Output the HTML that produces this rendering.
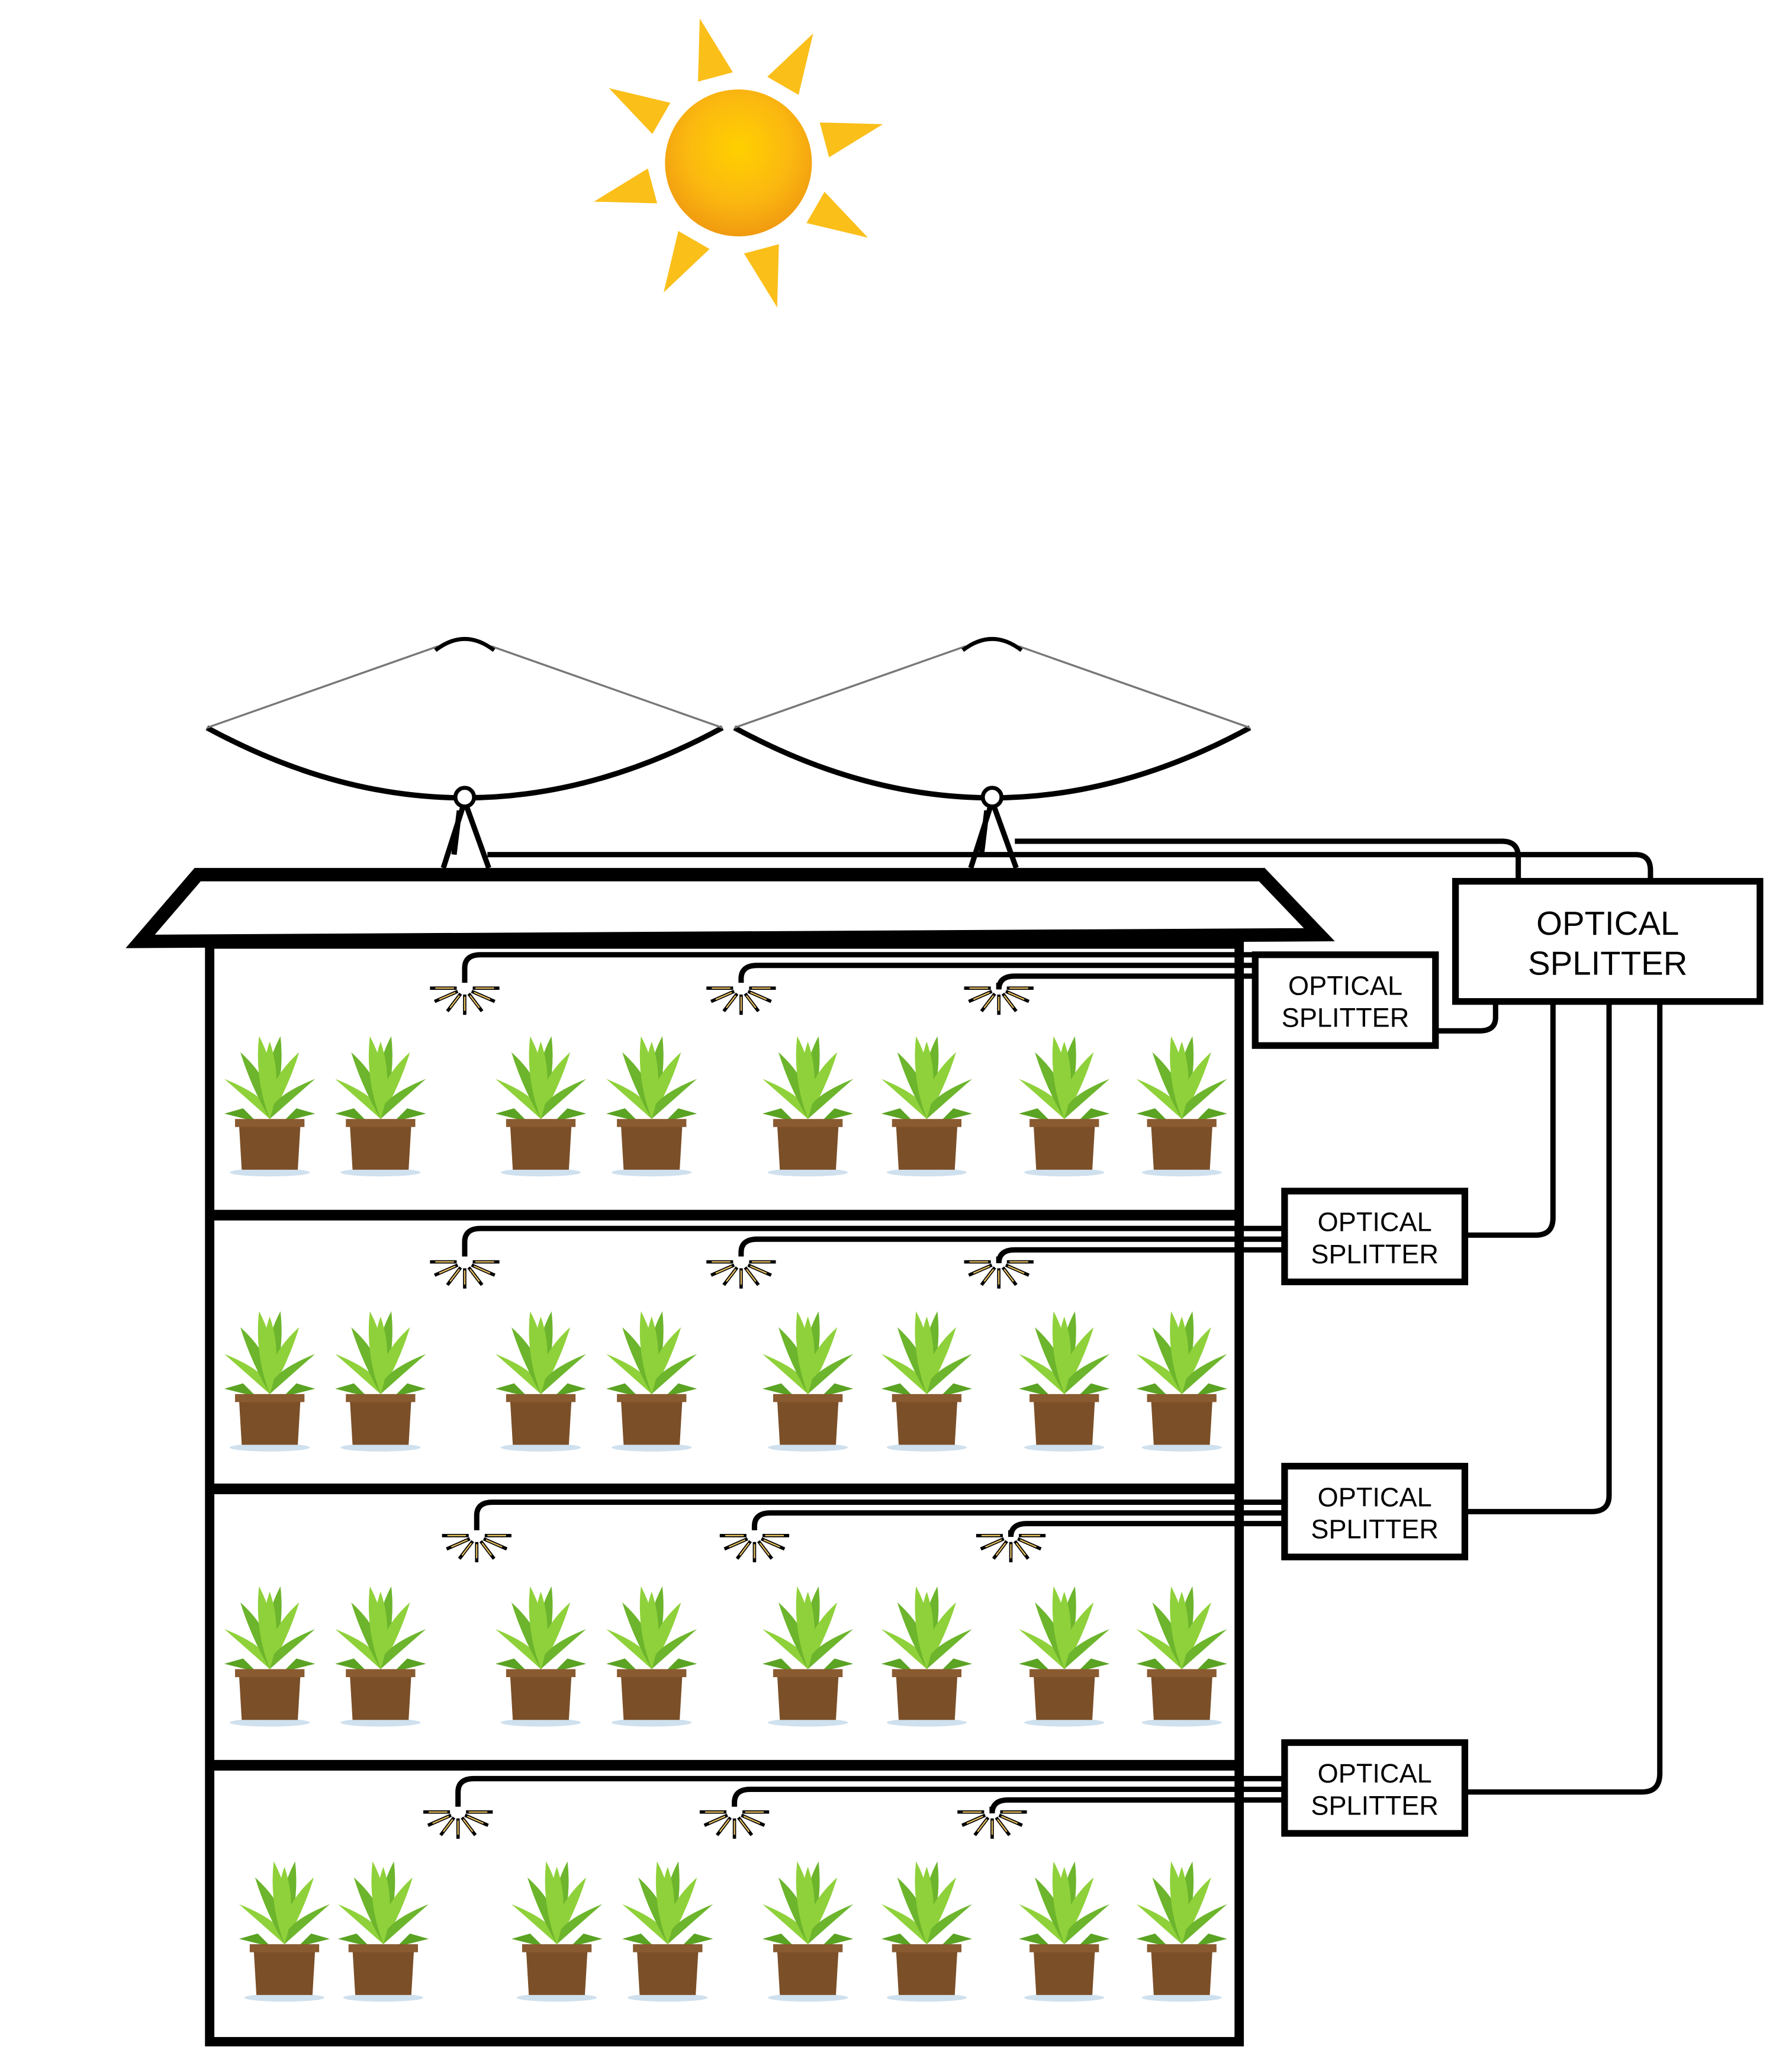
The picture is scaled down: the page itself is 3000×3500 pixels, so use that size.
<!DOCTYPE html>
<html><head><meta charset="utf-8"><style>html,body{margin:0;padding:0;background:#fff}svg{display:block}</style></head>
<body>
<svg id="s" xmlns="http://www.w3.org/2000/svg" width="3000" height="3500" viewBox="0 0 1330 1551.7">
<defs>
<radialGradient id="sg" cx="50%" cy="40%" r="60%"><stop offset="0" stop-color="#ffd000"/><stop offset="0.6" stop-color="#fbb810"/><stop offset="1" stop-color="#f09a10"/></radialGradient>
</defs>
<g id="sun"></g>
<g id="dishes"></g>
<g id="cables" fill="none" stroke="#000" stroke-width="4"></g>
<g id="building"></g>
<g id="plants"></g>
<g id="splitters"></g>
</svg>
<script>
const NS="http://www.w3.org/2000/svg";
function mk(p,t,a){const e=document.createElementNS(NS,t);for(const k in a)e.setAttribute(k,a[k]);p.appendChild(e);return e;}
const sun=document.getElementById('sun');
for(let i=0;i<8;i++){const a=(i*45-105)*Math.PI/180,w=0.2;
 const r1=68,r2=112;
 const p=[[553+r1*Math.cos(a-w),122+r1*Math.sin(a-w)],[553+r2*Math.cos(a),122+r2*Math.sin(a)],[553+r1*Math.cos(a+w),122+r1*Math.sin(a+w)]];
 const ray=mk(sun,'polygon',{points:p.map(q=>q.join(',')).join(' '),fill:'#fbbf1a'});
 
 }
const disc=mk(sun,'circle',{cx:553,cy:122,r:55,fill:'url(#sg)'});



const dishes=document.getElementById('dishes');
[348,743].forEach(cx=>{
 const g=mk(dishes,'g',{});
 
 
 mk(g,'path',{d:`M${cx-193},545 Q${cx},650 ${cx+193},545`,fill:'none',stroke:'#000','stroke-width':4});
 mk(g,'path',{d:`M${cx-193},545 L${cx-20},484 M${cx+193},545 L${cx+20},484`,stroke:'#777','stroke-width':1.5});
 mk(g,'path',{d:`M${cx-22},487 Q${cx},470 ${cx+22},487`,fill:'none',stroke:'#000','stroke-width':3});
 mk(g,'path',{d:`M${cx},600 L${cx-16},650 M${cx},600 L${cx+18},650 M${cx-4},607 L${cx-8},640`,stroke:'#000','stroke-width':4});
 mk(g,'circle',{cx:cx,cy:597,r:7,fill:'#fff',stroke:'#000','stroke-width':3});
});

const cables=document.getElementById('cables');
function cab(d){const c=mk(cables,'path',{d:d});}
cab('M760,630 H1125 Q1137,630 1137,642 V660');
cab('M365,640 H1225 Q1236,640 1236,652 V660');
cab('M1120,750 V762 Q1120,772 1108,772 H1075');
cab('M1163,750 V912 Q1163,925 1150,925 H1097');
cab('M1205,750 V1120 Q1205,1132 1192,1132 H1097');
cab('M1243,750 V1328 Q1243,1342 1230,1342 H1097');

const b=document.getElementById('building');
const roof=mk(b,'polygon',{points:'148,655 945,655 988,700 105,705',fill:'#fff',stroke:'#000','stroke-width':10,'stroke-linejoin':'miter'});

const wall=mk(b,'rect',{x:157,y:707,width:771,height:822,fill:'none',stroke:'#000','stroke-width':7});

[910,1115,1322].forEach(y=>{const f=mk(b,'line',{x1:157,x2:928,y1:y,y2:y,stroke:'#000','stroke-width':8});
 });

const floorTop=[740,945,1150,1357];
const lampX=[[348,555,748],[348,555,748],[357,565,757],[343,550,743]];
const splitterX=[940,962,962,962];
floorTop.forEach((ly,fi)=>{
 lampX[fi].forEach((lx,li)=>{
  const cy=ly-25+li*8;
  cab(`M${splitterX[fi]},${cy} H${lx+12} Q${lx},${cy} ${lx},${cy+10} V${ly-4}`);
  const lg=mk(b,'g',{});
  
  
  for(let k=0;k<7;k++){const a=(k*30)*Math.PI/180;
   mk(lg,'line',{x1:lx+6*Math.cos(a),y1:ly+6*Math.sin(a)*0.8,x2:lx+26*Math.cos(a),y2:ly+20*Math.sin(a),stroke:'#000','stroke-width':2.5});
   mk(lg,'line',{x1:lx+8*Math.cos(a),y1:ly+8*Math.sin(a)*0.8,x2:lx+22*Math.cos(a),y2:ly+17*Math.sin(a),stroke:'#e8c060','stroke-width':1});}
 });
});

const plants=document.getElementById('plants');
const plantX=[[202,285,405,488,605,694,797,885],[202,285,405,488,605,694,797,885],[202,285,405,488,605,694,797,885],[213,287,417,500,605,694,797,885]];
const potBottom=[876,1082,1288,1494];
potBottom.forEach((pb,fi)=>{plantX[fi].forEach(px=>{
 const g=mk(plants,'g',{});
 
 
 mk(g,'ellipse',{cx:px,cy:pb+2,rx:30,ry:3,fill:'#cfe0ee'});
 const top=pb-38;
 const leaves=[[-34,-30,-8],[-22,-50,-4],[-8,-62,0],[8,-62,0],[22,-50,4],[34,-30,8],[0,-58,0]];
 leaves.forEach((L,i)=>{
  mk(g,'path',{d:`M${px},${top} Q${px+L[0]*0.2-10},${top+L[1]*0.5} ${px+L[0]},${top+L[1]} Q${px+L[0]*0.2+10},${top+L[1]*0.5} ${px},${top} Z`,fill:i%2?'#6cb52c':'#8fd13a'});
 });
 mk(g,'path',{d:`M${px-20},${top-8} L${px-34},${top-4} L${px-10},${top+2} Z M${px+20},${top-8} L${px+34},${top-4} L${px+10},${top+2} Z`,fill:'#5aa323'});
 mk(g,'polygon',{points:`${px-23},${top+4} ${px+23},${top+4} ${px+21},${pb} ${px-21},${pb}`,fill:'#7b4f28'});
 mk(g,'rect',{x:px-26,y:top,width:52,height:6,fill:'#8a5a30'});
});});

const sp=document.getElementById('splitters');
const boxes=[[940,715,135,68,20],[962,892,135,68,20],[962,1098,135,68,20],[962,1305,135,68,20],[1090,660,228,90,25]];
boxes.forEach(bx=>{
 const g=mk(sp,'g',{});
 
 
 mk(g,'rect',{x:bx[0],y:bx[1],width:bx[2],height:bx[3],fill:'#fff',stroke:'#000','stroke-width':5});
 const cx=bx[0]+bx[2]/2,cy=bx[1]+bx[3]/2,fs=bx[4];
 const t1=mk(g,'text',{x:cx,y:cy-fs*0.2,'text-anchor':'middle','font-family':'Liberation Sans, sans-serif','font-size':fs});
 t1.textContent='OPTICAL';
 const t2=mk(g,'text',{x:cx,y:cy+fs*1.0,'text-anchor':'middle','font-family':'Liberation Sans, sans-serif','font-size':fs});
 t2.textContent='SPLITTER';
});
</script>
</body></html>
